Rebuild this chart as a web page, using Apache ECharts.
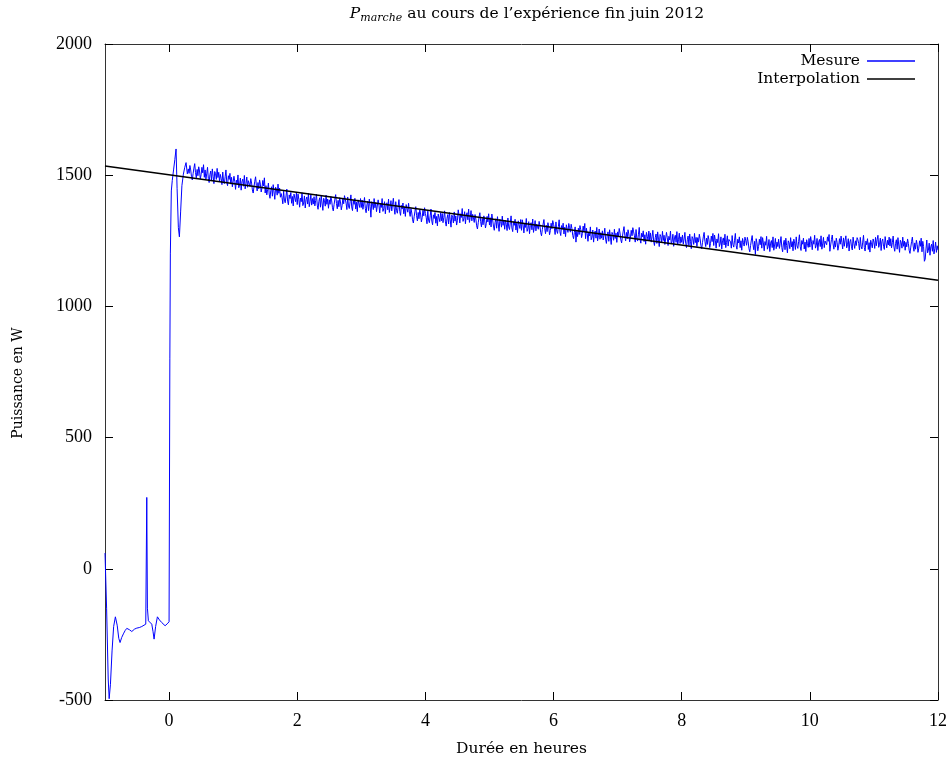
<!DOCTYPE html>
<html>
<head>
<meta charset="utf-8">
<script src="https://cdn.jsdelivr.net/npm/echarts@6/dist/echarts.min.js"></script>
<style>html,body{margin:0;padding:0;background:#fff}#c{width:950px;height:764px}</style>
</head>
<body>
<div id="c"></div>
<script>
// ---- data ----
const xTicks = [0, 2, 4, 6, 8, 10, 12];
const yTicks = [-500, 0, 500, 1000, 1500, 2000];

// start-up phase of the measurement: [hours, W]
const mesureDemarrage = [
  [-1.0, 60], [-0.975, -150], [-0.95, -420], [-0.935, -495], [-0.915, -440], [-0.89, -313],
  [-0.865, -220], [-0.838, -183], [-0.81, -215], [-0.785, -265], [-0.765, -281], [-0.74, -262],
  [-0.713, -248], [-0.685, -235], [-0.66, -227], [-0.62, -232], [-0.582, -239], [-0.54, -230],
  [-0.504, -226], [-0.465, -224], [-0.426, -220], [-0.395, -215], [-0.364, -211], [-0.356, -208],
  [-0.348, 272], [-0.338, -150], [-0.323, -198], [-0.3, -205], [-0.27, -211], [-0.25, -240],
  [-0.234, -268], [-0.21, -220], [-0.182, -183], [-0.15, -195], [-0.114, -205], [-0.085, -210],
  [-0.062, -217], [-0.03, -210], [0.0, -202], [0.012, 800], [0.02, 1200], [0.035, 1440],
  [0.05, 1480], [0.07, 1520], [0.09, 1560], [0.109, 1600], [0.125, 1450], [0.145, 1300],
  [0.161, 1265], [0.18, 1360], [0.2, 1460], [0.223, 1504], [0.245, 1530], [0.265, 1548],
  [0.285, 1505]
];

// regular sampling of the measurement after start-up (0.3 h to 12 h)
const bruitDebut = 0.3;
const bruitPas = 0.0125;
const mesureBruit = [
  // 0.3 - 0.9875 h
  1524,1507,1537,1520,1494,1482,1506,1527,1544,1510,1490,1522,1498,1532,1516,1486,1502,1530,1509,1540,
  1492,1520,1485,1505,1530,1488,1472,1502,1516,1480,1524,1496,1468,1514,1506,1484,1526,1491,1511,1476,
  1503,1488,1464,1512,1478,1468,1494,1520,1474,1460,1498,1484,1507,1466,1492,1456,
  // 1 h
  1456,1496,1476,1446,1481,1467,1501,1452,1462,1489,1443,1475,1485,1458,1499,1448,1468,1493,1454,1479,
  1474,1457,1487,1470,1444,1432,1456,1477,1494,1460,1440,1472,1448,1482,1466,1436,1452,1480,1459,1490,
  1432,1460,1425,1445,1470,1428,1412,1442,1456,1420,1464,1436,1408,1454,1446,1424,1466,1431,1451,1416,
  1430,1415,1391,1439,1405,1395,1421,1447,1401,1387,1425,1411,1434,1393,1419,1383,1428,1413,1399,1433,
  // 2 h
  1388,1428,1408,1378,1413,1399,1433,1384,1394,1421,1375,1407,1417,1390,1431,1380,1400,1425,1386,1411,
  1390,1418,1383,1403,1428,1386,1370,1400,1414,1378,1422,1394,1366,1412,1404,1382,1424,1389,1409,1374,
  1406,1389,1419,1402,1376,1364,1388,1409,1426,1392,1372,1404,1380,1414,1398,1368,1384,1412,1391,1422,
  1408,1393,1369,1417,1383,1373,1399,1425,1379,1365,1403,1389,1412,1371,1397,1361,1406,1391,1377,1411,
  // 3 h
  1377,1405,1370,1390,1415,1373,1357,1387,1401,1365,1409,1381,1340,1399,1391,1369,1411,1376,1396,1361,
  1366,1406,1386,1356,1391,1377,1411,1362,1372,1399,1353,1385,1395,1368,1409,1358,1378,1403,1364,1389,
  1412,1375,1351,1399,1365,1355,1381,1407,1361,1347,1385,1371,1394,1353,1379,1343,1388,1373,1359,1393,
  1360,1343,1373,1356,1330,1318,1342,1363,1380,1346,1326,1358,1334,1368,1352,1322,1338,1366,1345,1376,
  // 4 h
  1354,1339,1315,1363,1329,1319,1345,1371,1325,1311,1349,1335,1358,1317,1343,1307,1352,1337,1323,1357,
  1326,1354,1319,1339,1364,1322,1306,1336,1350,1314,1358,1330,1302,1348,1340,1318,1360,1325,1345,1310,
  1328,1368,1348,1318,1353,1339,1373,1324,1334,1361,1315,1347,1357,1330,1371,1320,1340,1365,1326,1351,
  1337,1320,1350,1333,1307,1295,1319,1340,1357,1323,1303,1335,1311,1345,1329,1299,1315,1343,1322,1353,
  // 5 h
  1310,1338,1303,1352,1348,1306,1290,1320,1334,1298,1342,1314,1286,1332,1324,1302,1344,1309,1329,1294,
  1328,1313,1289,1337,1303,1293,1319,1345,1299,1285,1323,1309,1332,1291,1317,1281,1326,1311,1297,1331,
  1290,1330,1310,1280,1315,1301,1335,1286,1296,1323,1277,1309,1319,1292,1333,1282,1302,1327,1288,1313,
  1311,1294,1324,1307,1281,1269,1293,1314,1331,1297,1277,1309,1285,1319,1303,1273,1289,1317,1296,1327,
  // 6 h
  1313,1298,1274,1322,1288,1278,1304,1330,1284,1270,1308,1294,1317,1276,1302,1266,1311,1296,1282,1316,
  1300,1283,1313,1296,1270,1258,1282,1303,1245,1286,1266,1298,1274,1308,1292,1262,1278,1306,1285,1316,
  1258,1298,1278,1248,1283,1269,1303,1254,1264,1291,1245,1277,1287,1260,1301,1250,1270,1295,1256,1281,
  1260,1288,1253,1273,1298,1256,1240,1270,1284,1248,1292,1264,1236,1282,1274,1252,1294,1259,1279,1244,
  // 7 h
  1284,1267,1297,1280,1254,1242,1266,1287,1304,1270,1250,1282,1258,1292,1276,1246,1262,1290,1269,1300,
  1284,1269,1245,1293,1259,1249,1275,1301,1255,1241,1279,1265,1288,1247,1273,1237,1282,1267,1253,1287,
  1252,1280,1245,1265,1290,1248,1232,1262,1276,1240,1284,1256,1228,1274,1266,1244,1286,1251,1271,1236,
  1242,1282,1262,1232,1267,1253,1287,1238,1248,1275,1229,1261,1271,1244,1285,1234,1254,1279,1240,1265,
  // 8 h
  1244,1272,1237,1257,1282,1240,1224,1254,1268,1232,1276,1248,1220,1266,1258,1236,1278,1243,1263,1228,
  1262,1245,1275,1258,1232,1220,1244,1265,1282,1248,1228,1260,1236,1270,1254,1224,1240,1268,1247,1278,
  1232,1272,1252,1222,1257,1243,1277,1228,1238,1265,1219,1251,1261,1234,1275,1224,1244,1269,1230,1255,
  1261,1246,1222,1270,1236,1226,1252,1278,1232,1218,1256,1242,1265,1224,1250,1214,1259,1244,1230,1264,
  // 9 h
  1250,1233,1263,1246,1220,1208,1232,1253,1270,1236,1216,1248,1198,1258,1242,1212,1228,1256,1235,1266,
  1222,1262,1242,1212,1247,1233,1267,1218,1228,1255,1209,1241,1251,1224,1265,1214,1234,1259,1220,1245,
  1228,1256,1221,1241,1266,1224,1208,1238,1252,1216,1260,1232,1204,1250,1242,1220,1262,1227,1247,1212,
  1256,1241,1217,1265,1231,1221,1247,1273,1227,1213,1251,1237,1260,1219,1245,1209,1254,1239,1225,1259,
  // 10 h
  1226,1266,1246,1216,1251,1237,1271,1222,1232,1259,1213,1245,1255,1228,1269,1218,1238,1263,1224,1249,
  1252,1235,1265,1248,1274,1210,1234,1255,1272,1238,1218,1250,1226,1260,1244,1214,1230,1258,1237,1268,
  1243,1219,1261,1229,1252,1269,1223,1235,1258,1211,1246,1255,1227,1215,1264,1240,1221,1250,1232,1262,
  1254,1239,1215,1263,1229,1219,1245,1271,1225,1211,1249,1235,1258,1217,1243,1207,1252,1237,1223,1257,
  // 11 h
  1245,1221,1263,1231,1254,1271,1225,1237,1260,1213,1248,1257,1229,1217,1266,1242,1223,1252,1234,1264,
  1230,1258,1223,1243,1268,1226,1210,1240,1254,1218,1262,1234,1206,1252,1244,1222,1264,1229,1249,1214,
  1244,1227,1257,1240,1214,1202,1226,1247,1264,1230,1210,1242,1218,1252,1236,1206,1222,1250,1229,1260,
  1208,1248,1228,1172,1180,1219,1253,1204,1214,1241,1195,1227,1237,1210,1251,1200,1220,1245,1206,1231,
  // 12 h
  1215
];

// linear interpolation line
const interpX = [-1, 12];
const interpY = [1535, 1100];

// ---- chart ----
const FONT = 'DejaVu Serif';
const NUMFONT = 'Liberation Serif';
const TXT = 15.5;
const mesureData = mesureDemarrage.concat(
  mesureBruit.map((v, i) => [+(bruitDebut + i * bruitPas).toFixed(4), v])
);
const interpData = interpX.map((x, i) => [x, interpY[i]]);

const chart = echarts.init(document.getElementById('c'), null, { renderer: 'canvas' });
const axisLineStyle = { show: true, onZero: false, lineStyle: { color: '#333', width: 1 } };
const tickStyle = { show: true, inside: true, length: 8, lineStyle: { color: '#000', width: 1 } };

chart.setOption({
  animation: false,
  backgroundColor: '#fff',
  textStyle: { fontFamily: FONT },
  title: {
    left: 522,
    top: 0,
    textAlign: 'center',
    text: '{p|P}{s|marche}{n| au cours de l\u2019exp\u00e9rience fin juin 2012}',
    textStyle: {
      fontWeight: 'normal',
      rich: {
        p: { fontFamily: FONT, fontStyle: 'italic', fontWeight: 'normal', fontSize: TXT, color: '#000', lineHeight: 18 },
        s: { fontFamily: FONT, fontStyle: 'italic', fontWeight: 'normal', fontSize: 11, color: '#000', lineHeight: 13, padding: [8, 0, 0, 0] },
        n: { fontFamily: FONT, fontWeight: 'normal', fontSize: TXT, color: '#000', lineHeight: 18 }
      }
    }
  },
  legend: {
    right: 30,
    top: 48,
    orient: 'vertical',
    align: 'right',
    icon: 'rect',
    itemWidth: 48,
    itemHeight: 1.5,
    itemGap: 2,
    textStyle: { fontFamily: FONT, fontSize: TXT, lineHeight: 16, color: '#000', padding: [0, 2, 0, 0] },
    data: ['Mesure', 'Interpolation']
  },
  graphic: [
    {
      type: 'text', x: 18, y: 383, rotation: Math.PI / 2,
      style: { text: 'Puissance en W', font: '14px "' + FONT + '"', fill: '#000', align: 'center', verticalAlign: 'middle' }
    }
  ],
  grid: { left: 105, right: 12, top: 44, bottom: 64, containLabel: false },
  xAxis: [
    {
      type: 'value', position: 'bottom', min: -1, max: 12,
      axisLine: axisLineStyle,
      axisTick: Object.assign({ customValues: xTicks }, tickStyle),
      axisLabel: { customValues: xTicks, margin: 12, fontFamily: NUMFONT, fontSize: 18, color: '#000' },
      splitLine: { show: false },
      name: 'Dur\u00e9e en heures', nameLocation: 'middle', nameGap: 41,
      nameTextStyle: { fontFamily: FONT, fontSize: TXT, color: '#000' }
    },
    {
      type: 'value', position: 'top', min: -1, max: 12,
      axisLine: axisLineStyle,
      axisTick: Object.assign({ customValues: xTicks }, tickStyle),
      axisLabel: { show: false },
      splitLine: { show: false }
    }
  ],
  yAxis: [
    {
      type: 'value', position: 'left', min: -500, max: 2000, interval: 500,
      axisLine: axisLineStyle,
      axisTick: tickStyle,
      axisLabel: { margin: 13, fontFamily: NUMFONT, fontSize: 18, color: '#000', formatter: v => String(v) },
      splitLine: { show: false }
    },
    {
      type: 'value', position: 'right', min: -500, max: 2000, interval: 500,
      axisLine: axisLineStyle,
      axisTick: tickStyle,
      axisLabel: { show: false },
      splitLine: { show: false }
    }
  ],
  series: [
    {
      name: 'Mesure', type: 'line', xAxisIndex: 0, yAxisIndex: 0,
      data: mesureData, symbol: 'none', showSymbol: false, sampling: null,
      lineStyle: { color: '#0000ff', width: 1 }, itemStyle: { color: '#0000ff' },
      clip: true, z: 2
    },
    {
      name: 'Interpolation', type: 'line', xAxisIndex: 0, yAxisIndex: 0,
      data: interpData, symbol: 'none', showSymbol: false,
      lineStyle: { color: '#000', width: 1.5 }, itemStyle: { color: '#000' },
      clip: true, z: 3
    }
  ]
});
</script>
</body>
</html>
